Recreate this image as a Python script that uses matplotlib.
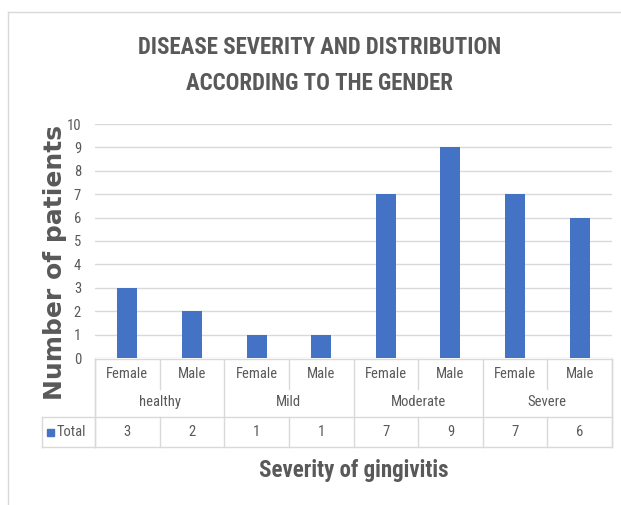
import matplotlib
matplotlib.use("Agg")
import matplotlib.pyplot as plt
from matplotlib.patches import Rectangle

# data
groups = ["healthy", "Mild", "Moderate", "Severe"]
genders = ["Female", "Male"]
totals = [3, 2, 1, 1, 7, 9, 7, 6]
series_name = "Total"

blue = "#4472C4"
grey_txt = "#595959"
grid_c = "#d9d9d9"
narrow = ["DejaVu Sans Condensed", "Liberation Sans Narrow", "Roboto Condensed", "DejaVu Sans"]

W, H = 621, 505
fig = plt.figure(figsize=(W / 100, H / 100), dpi=100)


def fx(px):
    return px / W


def fy(py):
    return 1 - py / H


# chart frame
fig.add_artist(plt.Line2D([fx(8), 1], [fy(12), fy(12)], color=grid_c, lw=1))
fig.add_artist(plt.Line2D([fx(8), fx(8)], [fy(12), 0], color=grid_c, lw=1))

# plot area
left, right, top, bottom = 95, 612, 124, 358
ax = fig.add_axes([fx(left), fy(bottom), fx(right - left), (bottom - top) / H])
n = len(totals)
xs = list(range(n))
ax.bar(xs, totals, width=0.31, color=blue, zorder=3)
ax.set_xlim(-0.5, n - 0.5)
ax.set_ylim(0, 10)
ax.set_yticks(range(0, 11))
ax.set_yticklabels([str(i) for i in range(0, 11)], family=narrow, stretch="condensed",
                   fontsize=10.5, color=grey_txt)
ax.tick_params(axis="y", length=0, pad=10)
ax.set_xticks([])
ax.grid(axis="y", color=grid_c, lw=1, zorder=0)
for s in ax.spines.values():
    s.set_visible(False)

# data table under the plot
tb = fig.add_axes([fx(left), fy(447), fx(right - left), (447 - 358) / H])
tb.set_xlim(-0.5, n - 0.5)
tb.set_ylim(447, 358)
tb.axis("off")

def hline(x0, x1, y):
    tb.plot([x0, x1], [y, y], color=grid_c, lw=1, clip_on=False)

def vline(x, y0, y1):
    tb.plot([x, x], [y0, y1], color=grid_c, lw=1, clip_on=False)

leg_left = -0.5 - (left - 42) / ((right - left) / n)
hline(-0.5, n - 0.5, 359)
hline(leg_left, n - 0.5, 417)
hline(leg_left, n - 0.5, 446.5)
vline(-0.5, 359, 446.5)
vline(n - 0.5, 359, 446.5)
vline(leg_left, 417, 446.5)
for g in range(len(groups) + 1):
    vline(g * 2 - 0.5, 359, 446.5)
for i in range(n):
    if i % 2 == 1:
        vline(i - 0.5, 359, 389)
        vline(i - 0.5, 417, 446.5)

cell = dict(ha="center", va="center", family=narrow, stretch="condensed",
            fontsize=10.5, color=grey_txt, clip_on=False)
for i in range(n):
    tb.text(i, 374, genders[i % 2], **cell)
    tb.text(i, 432, str(totals[i]), **cell)
for g, name in enumerate(groups):
    tb.text(g * 2 + 0.5, 402, name, **cell)

# legend key in the table
fig.add_artist(Rectangle((fx(47), fy(436)), fx(7), 7 / H, color=blue))
fig.text(fx(57), fy(432), series_name, ha="left", va="center", family=narrow,
         stretch="condensed", fontsize=10.5, color=grey_txt)

# titles
ttl = dict(ha="center", va="center", family=narrow, stretch="condensed",
           color=grey_txt, fontweight="bold")
fig.text(fx(320), fy(47), "DISEASE SEVERITY AND DISTRIBUTION", fontsize=16.5, **ttl)
fig.text(fx(320), fy(83), "ACCORDING TO THE GENDER", fontsize=16.5, **ttl)
fig.text(fx(354), fy(470), "Severity of gingivitis", fontsize=16.5, **ttl)
fig.text(fx(55), fy(263), "Number of patients", ha="center", va="center", rotation=90,
         family=["DejaVu Sans"], fontsize=18, color=grey_txt, fontweight="bold")

fig.savefig("out.png", dpi=100)
